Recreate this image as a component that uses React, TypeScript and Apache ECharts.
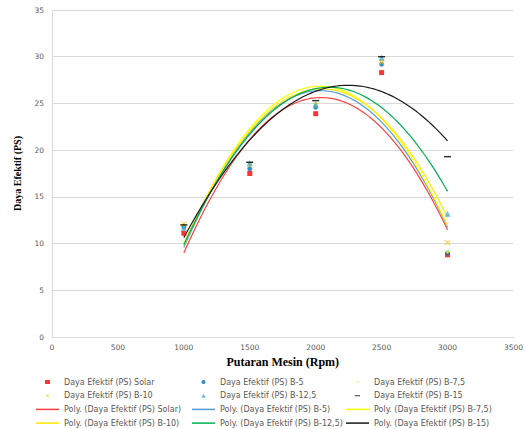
import React, { useEffect, useRef } from "react";
import * as echarts from "echarts";

const rpm = [1000, 1500, 2000, 2500, 3000];
const solar = [11.1, 17.5, 23.9, 28.3, 8.8];
const b5 = [11.8, 18.0, 24.6, 29.2, 9.0];
const b75 = [12.0, 18.5, 25.0, 29.6, 9.1];
const b10 = [12.1, 18.4, 24.8, 29.4, 10.1];
const b125 = [11.7, 18.6, 24.9, 29.9, 13.2];
const b15 = [12.0, 18.7, 25.3, 30.0, 19.3];

const fuelNames = ["Solar", "B-5", "B-7,5", "B-10", "B-12,5", "B-15"];
const fuelValues = [solar, b5, b75, b10, b125, b15];
const markerColors = ["#FF0000", "#0070C0", "#FFFF00", "#FFC000", "#4BACC6", "#000000"];
const lineColors = ["#FF4040", "#5B9BD5", "#FFFF00", "#FFE800", "#00B050", "#1A1A1A"];
const xPath = "path://M1,0 L5,4 L9,0 L10,1 L6,5 L10,9 L9,10 L5,6 L1,10 L0,9 L4,5 L0,1 Z";
const markerSymbols = [
  "rect",
  "circle",
  "diamond",
  xPath,
  "triangle",
  "path://M0,0 H10 V2 H0 Z",
];
const markerSizes: any[] = [[5, 5], 5, 4, 6, 6, [7, 1.5]];
const legendIcons = [
  "path://M0,0H5V4H0Z",
  "circle",
  "path://M1.5,0.3L2.7,1.5L1.5,2.7L0.3,1.5Z M1.5,-0.5L1.5,-0.5 M1.5,3.5L1.5,3.5",
  xPath,
  "path://M2,0L4,3.5L0,3.5Z",
  "path://M0,0H5V1H0Z M2.5,-1.5L2.5,-1.5 M2.5,2.5L2.5,2.5",
];
const lineIcon = "path://M0,0H23V1.5H0Z";

function quadFit(xs: number[], ys: number[]) {
  // least squares y = a + b x + c x^2 (x in thousands)
  const n = xs.length;
  const s = [0, 0, 0, 0, 0];
  const t = [0, 0, 0];
  for (let i = 0; i < n; i++) {
    const x = xs[i] / 1000;
    for (let k = 0; k < 5; k++) s[k] += Math.pow(x, k);
    for (let k = 0; k < 3; k++) t[k] += ys[i] * Math.pow(x, k);
  }
  const M = [
    [s[0], s[1], s[2], t[0]],
    [s[1], s[2], s[3], t[1]],
    [s[2], s[3], s[4], t[2]],
  ];
  for (let i = 0; i < 3; i++) {
    for (let j = i + 1; j < 3; j++) {
      const f = M[j][i] / M[i][i];
      for (let k = i; k < 4; k++) M[j][k] -= f * M[i][k];
    }
  }
  const c = [0, 0, 0];
  for (let i = 2; i >= 0; i--) {
    let v = M[i][3];
    for (let k = i + 1; k < 3; k++) v -= M[i][k] * c[k];
    c[i] = v / M[i][i];
  }
  return (x: number) => {
    const u = x / 1000;
    return c[0] + c[1] * u + c[2] * u * u;
  };
}

export default function App() {
  const ref = useRef<HTMLDivElement>(null);
  useEffect(() => {
    const chart = echarts.init(ref.current!, null, { renderer: "svg" });
    const series: any[] = [];
    const scatterItems: any[] = [];
    const polyItems: any[] = [];
    fuelNames.forEach((f, i) => {
      const name = "Daya Efektif (PS) " + f;
      scatterItems.push({ name, icon: legendIcons[i] });
      series.push({
        name,
        type: "scatter",
        z: 5,
        symbol: markerSymbols[i],
        symbolSize: markerSizes[i],
        itemStyle: { color: markerColors[i] },
        data: rpm.map((x, j) => [x, fuelValues[i][j]]),
      });
    });
    fuelNames.forEach((f, i) => {
      const name = "Poly. (Daya Efektif (PS) " + f + ")";
      polyItems.push({ name, icon: lineIcon });
      const fit = quadFit(rpm, fuelValues[i]);
      const pts: number[][] = [];
      for (let x = rpm[0]; x <= rpm[rpm.length - 1]; x += 20) pts.push([x, fit(x)]);
      series.push({
        name,
        type: "line",
        z: 2,
        symbol: "none",
        showSymbol: false,
        lineStyle: { color: lineColors[i], width: 1.2 },
        itemStyle: { color: lineColors[i] },
        data: pts,
      });
    });
    const cols = [
      [scatterItems[0], scatterItems[3], polyItems[0], polyItems[3]],
      [scatterItems[1], scatterItems[4], polyItems[1], polyItems[4]],
      [scatterItems[2], scatterItems[5], polyItems[2], polyItems[5]],
    ];
    const lefts = [36, 192, 346];
    const legend = cols.map((d, i) => ({
      orient: "vertical",
      left: lefts[i],
      top: 377,
      itemWidth: 23,
      itemHeight: 4,
      itemGap: 3.7,
      padding: 0,
      symbolKeepAspect: true,
      textStyle: { fontSize: 8, color: "#595959", fontFamily: "DejaVu Sans", lineHeight: 10 },
      data: d,
    }));
    chart.setOption({
      animation: false,
      backgroundColor: "#ffffff",
      legend,
      grid: { left: 52, right: 10, top: 10, bottom: 92 },
      xAxis: {
        type: "value",
        min: 0,
        max: 3500,
        interval: 500,
        name: "Putaran Mesin (Rpm)",
        nameLocation: "middle",
        nameGap: 10,
        nameTextStyle: { fontFamily: "Liberation Serif", fontWeight: "bold", fontSize: 12, color: "#000" },
        axisLine: { lineStyle: { color: "#D9D9D9" } },
        axisTick: { show: false },
        splitLine: { show: false },
        axisLabel: {
          fontSize: 7.5,
          color: "#595959",
          fontFamily: "DejaVu Sans",
          margin: 6,
          formatter: (v: number) => String(v),
        },
      },
      yAxis: {
        type: "value",
        min: 0,
        max: 35,
        interval: 5,
        name: "Daya Efektif (PS)",
        nameLocation: "middle",
        nameGap: 30,
        nameTextStyle: { fontFamily: "Liberation Serif", fontWeight: "bold", fontSize: 10, color: "#000" },
        axisLine: { show: true, lineStyle: { color: "#D9D9D9" } },
        axisTick: { show: false },
        splitLine: { lineStyle: { color: "#D9D9D9" } },
        axisLabel: { fontSize: 7.5, color: "#595959", fontFamily: "DejaVu Sans", margin: 8 },
      },
      series,
    });
    return () => chart.dispose();
  }, []);
  return (
    <div
      ref={ref}
      style={{ position: "fixed", left: 0, top: 0, width: 526, height: 429, background: "#fff" }}
    />
  );
}
